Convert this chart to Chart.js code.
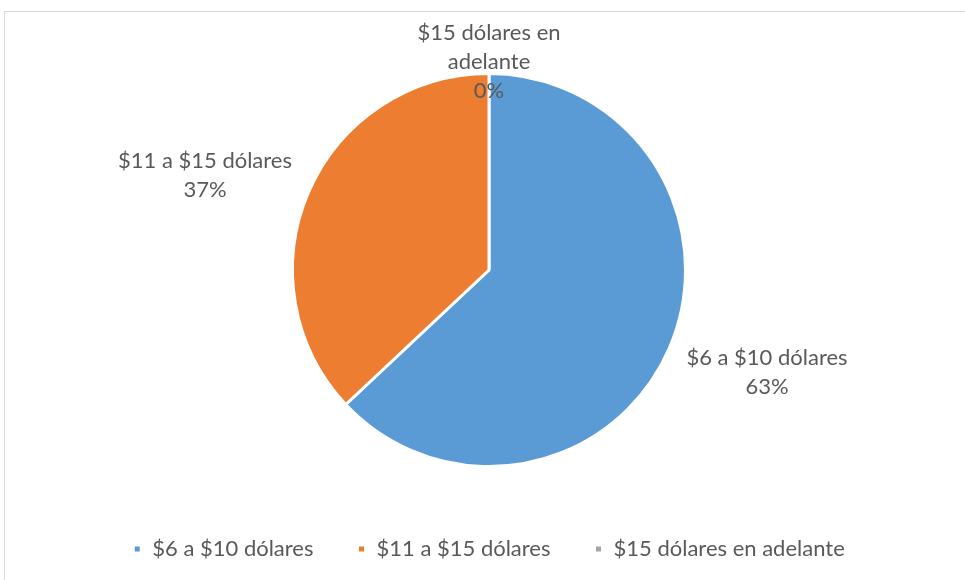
<!DOCTYPE html>
<html><head><meta charset="utf-8">
<script src="https://cdn.jsdelivr.net/npm/chart.js@4/dist/chart.umd.min.js"></script>
<style>
html,body{margin:0;padding:0;background:#fff;}
#wrap{position:absolute;left:0;top:0;width:965px;height:580px;}
#frame{position:absolute;left:4px;top:11px;width:970px;height:580px;border:1px solid #d9d9d9;box-sizing:border-box;}
</style></head><body>
<div id="frame"></div>
<div id="wrap"><canvas id="c" width="965" height="580"></canvas></div>
<script>
const categories = ["$6 a $10 dólares", "$11 a $15 dólares", "$15 dólares en adelante"];
const values = [63, 37, 0];
const percentLabels = ["63%", "37%", "0%"];
const colors = ["#5B9BD5", "#ED7D31", "#A5A5A5"];
const labelLines = [["$6 a $10 dólares"], ["$11 a $15 dólares"], ["$15 dólares en", "adelante"]];

const FONT = "Lato, 'Open Sans', sans-serif";
const FS = 22;
const labelOffsets = [[278, 102], [-284, -95], [0, -208]];

const labelPlugin = {
  id: 'outsideLabels',
  afterDatasetsDraw(chart) {
    const ctx = chart.ctx;
    const meta = chart.getDatasetMeta(0);
    ctx.save();
    ctx.fillStyle = '#595959';
    ctx.font = FS + 'px ' + FONT;
    ctx.textAlign = 'center';
    ctx.textBaseline = 'middle';
    const lh = 29;
    meta.data.forEach((arc, i) => {
      const cx = arc.x + labelOffsets[i][0];
      const cy = arc.y + labelOffsets[i][1];
      const lines = labelLines[i].concat([percentLabels[i]]);
      const startY = cy - (lines.length - 1) * lh / 2;
      lines.forEach((t, k) => ctx.fillText(t, cx, startY + k * lh));
    });
    ctx.restore();
  }
};

new Chart(document.getElementById('c'), {
  type: 'pie',
  data: {
    labels: categories,
    datasets: [{
      data: values,
      backgroundColor: colors,
      borderColor: '#ffffff',
      borderWidth: 3,
      hoverOffset: 0
    }]
  },
  options: {
    responsive: false,
    animation: false,
    layout: { padding: { top: 72, bottom: 10, left: 13, right: 0 } },
    plugins: {
      tooltip: { enabled: false },
      legend: {
        position: 'bottom',
        title: { display: true, text: ' ', font: { size: 10 }, padding: { top: 14, bottom: 0 } },
        labels: {
          color: '#595959',
          font: { family: FONT, size: FS },
          boxWidth: 8,
          boxHeight: 8,
          padding: 44
        }
      }
    }
  },
  plugins: [labelPlugin]
});
</script>
</body></html>
